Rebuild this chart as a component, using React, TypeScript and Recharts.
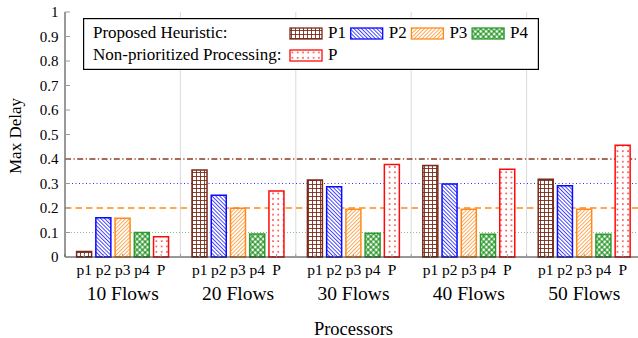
import React from "react";
import {
  BarChart,
  Bar,
  Cell,
  XAxis,
  YAxis,
  CartesianGrid,
  Legend,
  Label,
} from "recharts";

const groups = ["10 Flows", "20 Flows", "30 Flows", "40 Flows", "50 Flows"];
const tickNames = ["p1", "p2", "p3", "p4", "P"];
const legendNames = ["P1", "P2", "P3", "P4", "P"];
const legendTitles = ["Proposed Heuristic:", "Non-prioritized Processing:"];

const p1 = [0.022, 0.355, 0.314, 0.373, 0.317];
const p2 = [0.16, 0.252, 0.287, 0.298, 0.291];
const p3 = [0.158, 0.199, 0.195, 0.195, 0.195];
const p4 = [0.1, 0.094, 0.097, 0.093, 0.093];
const pAll = [0.083, 0.269, 0.378, 0.358, 0.456];

const levels = [0.4, 0.3, 0.2, 0.1];
const yTicks = [0, 0.1, 0.2, 0.3, 0.4, 0.5, 0.6, 0.7, 0.8, 0.9, 1];
const yDomain = [0, 1];

const seriesValues = [p1, p2, p3, p4, pAll];
const colors = ["#7a2a1a", "#0a0aff", "#ff8a1c", "#2e9b2e", "#ff0a0a"];
const levelStyles = [
  { stroke: "#8b3a22", dash: "6 2.5 1.2 2.5", width: 1.3 },
  { stroke: "#3030ff", dash: "1 2.5", width: 1 },
  { stroke: "#ff8c1a", dash: "6.5 4", width: 1.5 },
  { stroke: "#86c486", dash: "1 2", width: 1 },
];

// each group: p1..p4, P and one empty slot between groups
const slotsPerGroup = tickNames.length + 1;
const totalSlots = groups.length * slotsPerGroup;

const rows = groups.flatMap((_, gi) =>
  seriesValues.map((vals, si) => ({
    pos: gi * slotsPerGroup + si + 1,
    value: vals[gi],
    series: si,
  }))
);
const slotTicks = Array.from({ length: totalSlots + 1 }, (_, i) => i);
const separators = groups.slice(1).map((_, i) => (i + 1) * slotsPerGroup);

const font = "'Liberation Serif', serif";

// map axis values to pixels inside the plot area (both axes are linear)
const toX = (v: number, off: any) => off.left + (v / totalSlots) * off.width;
const toY = (v: number, off: any) =>
  off.top + (1 - (v - yDomain[0]) / (yDomain[1] - yDomain[0])) * off.height;

const Patterns = () => (
  <defs>
    <pattern id="pat-0" width={4} height={4} patternUnits="userSpaceOnUse">
      <rect width={4} height={4} fill="#fff" />
      <path d="M0 0.5H4M0.5 0V4" stroke={colors[0]} strokeWidth={0.9} />
    </pattern>
    <pattern id="pat-1" width={2.7} height={2.7} patternUnits="userSpaceOnUse" patternTransform="rotate(-45)">
      <rect width={2.7} height={2.7} fill="#fff" />
      <line x1={0.5} y1={0} x2={0.5} y2={2.7} stroke={colors[1]} strokeWidth={0.75} />
    </pattern>
    <pattern id="pat-2" width={2.7} height={2.7} patternUnits="userSpaceOnUse" patternTransform="rotate(45)">
      <rect width={2.7} height={2.7} fill="#fff" />
      <line x1={0.5} y1={0} x2={0.5} y2={2.7} stroke={colors[2]} strokeWidth={0.75} />
    </pattern>
    <pattern id="pat-3" width={3.8} height={3.8} patternUnits="userSpaceOnUse" patternTransform="rotate(45)">
      <rect width={3.8} height={3.8} fill={colors[3]} />
      <circle cx={1.9} cy={1.9} r={1.4} fill="#fff" />
    </pattern>
    <pattern id="pat-4" width={5.3} height={5.3} patternUnits="userSpaceOnUse">
      <rect width={5.3} height={5.3} fill="#fff" />
      <rect x={2} y={2} width={1.4} height={1.4} fill={colors[4]} />
    </pattern>
  </defs>
);

const SlotTick = (props: any) => {
  const { x, y, payload } = props;
  const slot = payload.value;
  const si = (slot % slotsPerGroup) - 1;
  if (si < 0 || si >= tickNames.length) return null;
  const gi = Math.floor(slot / slotsPerGroup);
  return (
    <g>
      <text x={x} y={y + 20.5} textAnchor="middle" fontSize={15.5} fill="#000" fontFamily={font}>
        {tickNames[si]}
      </text>
      {si === 2 && (
        <text x={x} y={y + 46} textAnchor="middle" fontSize={19.5} fill="#000" fontFamily={font}>
          {groups[gi]}
        </text>
      )}
    </g>
  );
};

const YLabel = (props: any) => {
  const { viewBox } = props;
  const cx = viewBox.x + 21;
  const cy = viewBox.y + viewBox.height / 2 + 1.5;
  return (
    <text
      x={cx}
      y={cy}
      transform={`rotate(-90 ${cx} ${cy})`}
      textAnchor="middle"
      fontSize={17}
      fill="#000"
      fontFamily={font}
    >
      Max Delay
    </text>
  );
};

const LegendBox = () => {
  const step = 60.7;
  return (
    <svg width={456} height={52} style={{ display: "block" }}>
      <rect x={0.6} y={0.6} width={454.8} height={50.8} fill="#fff" stroke="#000" strokeWidth={1.2} />
      <g fontFamily={font} fontSize={17} fill="#000">
        <text x={10} y={19.5}>{legendTitles[0]}</text>
        {legendNames.slice(0, 4).map((name, i) => (
          <g key={name}>
            <rect
              x={207 + i * step}
              y={10}
              width={32}
              height={11}
              fill={`url(#pat-${i})`}
              stroke={colors[i]}
              strokeWidth={1.3}
            />
            <text x={207 + i * step + 38} y={19.5}>{name}</text>
          </g>
        ))}
        <text x={10} y={41.7}>{legendTitles[1]}</text>
        <rect x={207} y={32} width={32} height={11} fill="url(#pat-4)" stroke={colors[4]} strokeWidth={1.3} />
        <text x={245} y={41.7}>{legendNames[4]}</text>
      </g>
    </svg>
  );
};

const App: React.FC = () => {
  return (
    <div
      style={{
        position: "absolute",
        left: 0,
        top: 0,
        width: 638,
        height: 338,
        overflow: "hidden",
        background: "#fff",
        fontFamily: font,
      }}
    >
      <BarChart
        width={652}
        height={338}
        data={rows}
        margin={{ top: 12, right: 10, bottom: 0, left: 0 }}
      >
        <Patterns />
        {/* separators and threshold lines as grid lines, so they stay under the bars */}
        <CartesianGrid
          horizontal={false}
          stroke="#dadada"
          verticalCoordinatesGenerator={({ offset }: any) =>
            separators.map((s) => toX(s, offset))
          }
        />
        {levels.map((lv, i) => (
          <CartesianGrid
            key={`lv-${lv}`}
            vertical={false}
            stroke={levelStyles[i].stroke}
            strokeDasharray={levelStyles[i].dash}
            strokeWidth={levelStyles[i].width}
            horizontalCoordinatesGenerator={({ offset }: any) => [toY(lv, offset)]}
          />
        ))}
        <XAxis
          dataKey="pos"
          type="number"
          domain={[0, totalSlots]}
          ticks={slotTicks}
          interval={0}
          height={81}
          tickSize={-3}
          tickMargin={0}
          tickLine={{ stroke: "#999" }}
          axisLine={{ stroke: "#333" }}
          tick={<SlotTick />}
        >
          <Label value="Processors" position="insideBottom" offset={3} fontSize={18.5} fill="#000" fontFamily={font} />
        </XAxis>
        <XAxis
          xAxisId="top"
          orientation="top"
          type="number"
          domain={[0, totalSlots]}
          ticks={slotTicks}
          interval={0}
          height={0}
          tickSize={-4}
          tick={false}
          tickLine={{ stroke: "#555" }}
          axisLine={{ stroke: "#333" }}
        />
        <YAxis
          domain={yDomain}
          ticks={yTicks}
          interval={0}
          width={65}
          tickSize={-5}
          tickMargin={11.5}
          tickLine={{ stroke: "#999" }}
          axisLine={{ stroke: "#333" }}
          tick={{ fill: "#000", fontSize: 15, fontFamily: font }}
        >
          <Label content={<YLabel />} />
        </YAxis>
        <YAxis
          yAxisId="right"
          orientation="right"
          domain={yDomain}
          ticks={yTicks}
          width={0}
          tickSize={-5}
          tick={false}
          tickLine={{ stroke: "#999" }}
          axisLine={{ stroke: "#333" }}
        />
        <Legend
          verticalAlign="middle"
          align="center"
          content={<LegendBox />}
          wrapperStyle={{ left: 83, top: 18, width: 456, height: 52 }}
        />
        <Bar dataKey="value" barSize={15} isAnimationActive={false}>
          {rows.map((r) => (
            <Cell
              key={`c-${r.pos}`}
              fill={`url(#pat-${r.series})`}
              stroke={colors[r.series]}
              strokeWidth={1.5}
            />
          ))}
        </Bar>
      </BarChart>
    </div>
  );
};

export default App;
